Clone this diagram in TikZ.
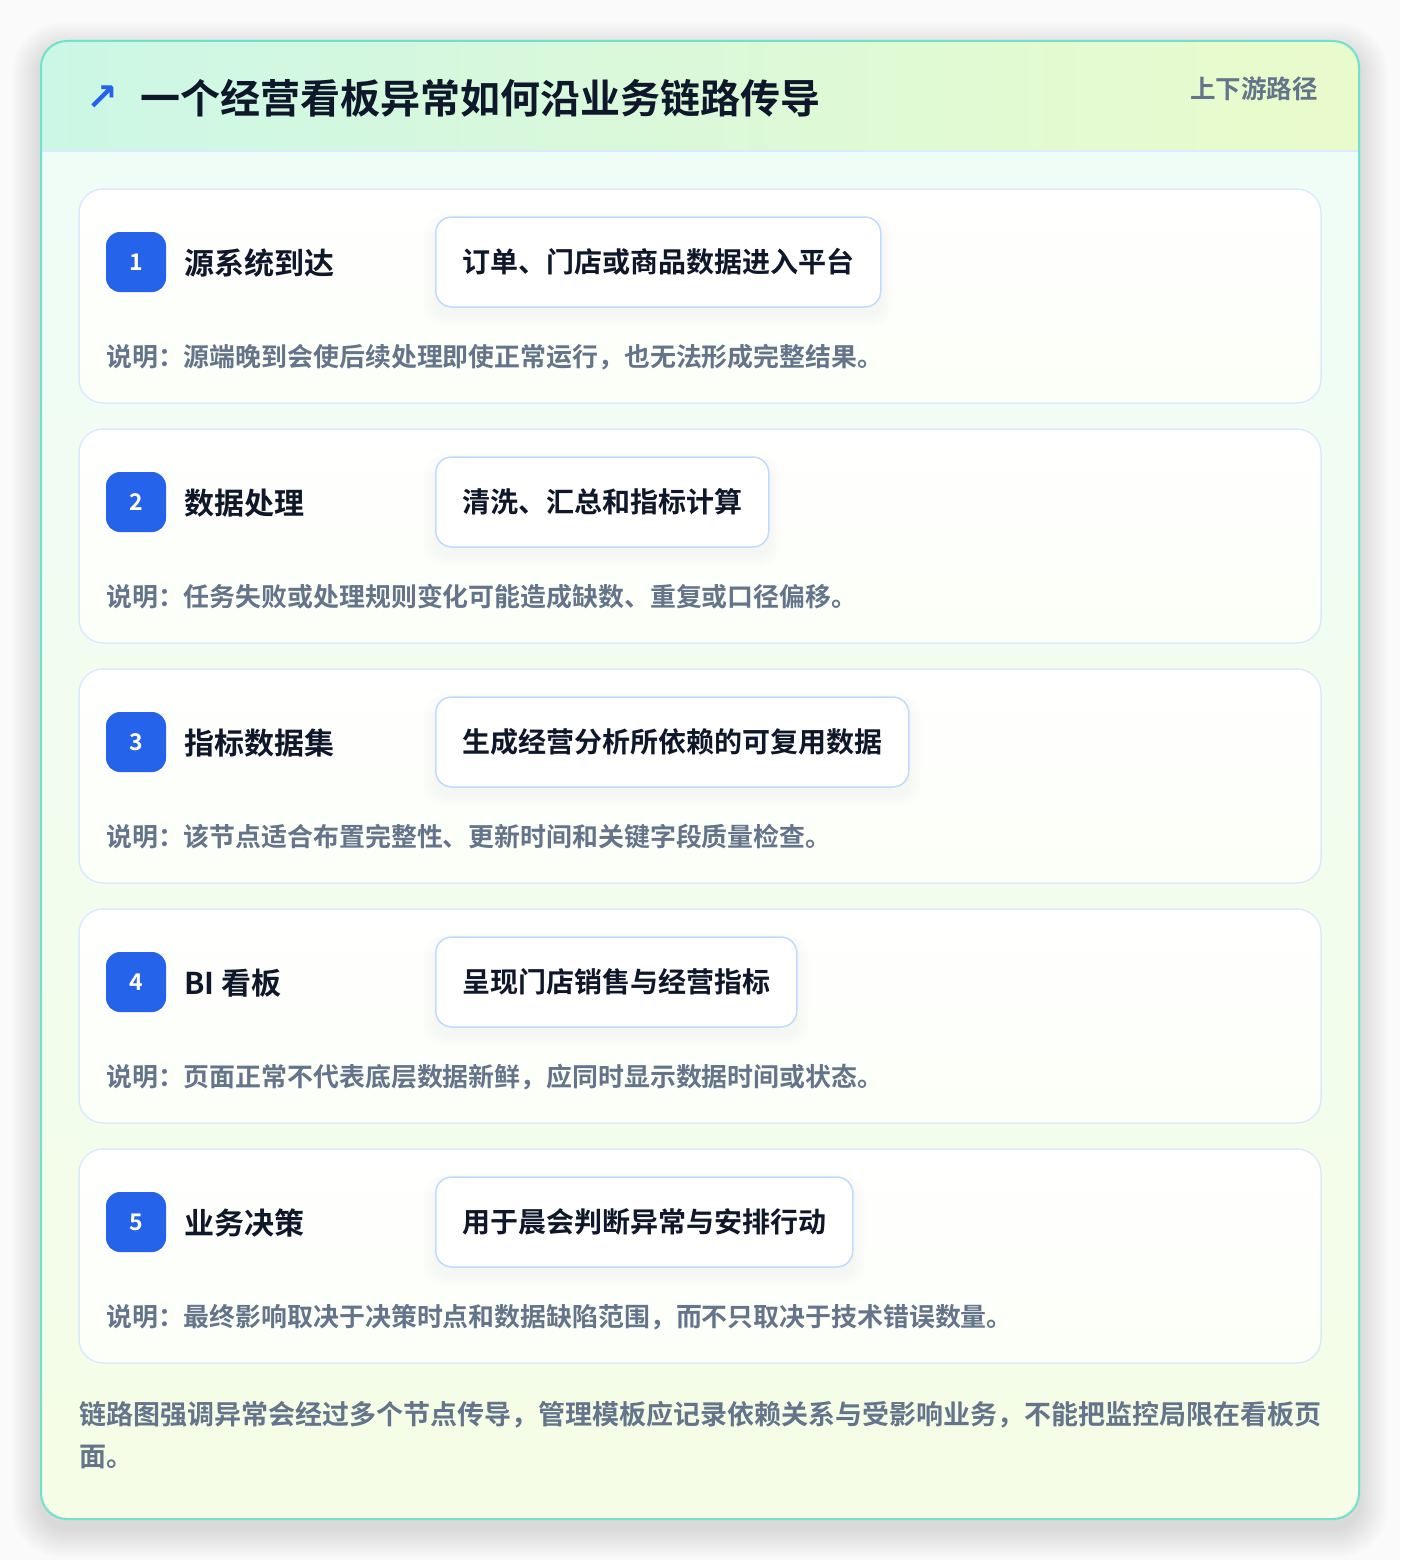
\documentclass[tikz,border=0pt]{standalone}
\usepackage{fontspec}
\setmainfont{Noto Sans CJK SC}[BoldFont={Noto Sans CJK SC Bold}]
\newfontfamily\symfont{DejaVu Sans}
\usetikzlibrary{backgrounds}
\definecolor{pagebg}{HTML}{FAFAFA}
\definecolor{cardedge}{HTML}{6EE2CC}
\definecolor{headL}{HTML}{CCF7E6}
\definecolor{headR}{HTML}{EAFBCB}
\definecolor{bodyT}{HTML}{EFFDF8}
\definecolor{bodyB}{HTML}{F5FDE6}
\definecolor{lineblue}{HTML}{DBEAFE}
\definecolor{pillblue}{HTML}{BFDBFE}
\definecolor{badgeblue}{HTML}{2563EB}
\definecolor{inkdark}{HTML}{0F172A}
\definecolor{inkgray}{HTML}{64748B}
\pgfdeclarelayer{shadowlayer}
\pgfsetlayers{background,shadowlayer,main}
\begin{document}
\begin{tikzpicture}[x=1pt,y=-1pt,
  stepcard/.style={draw=lineblue, line width=1.5pt, rounded corners=24pt, top color=white, bottom color=white!70!bodyB, minimum width=1242pt, minimum height=214pt, inner sep=0pt},
  badge/.style={fill=badgeblue, rounded corners=14pt, minimum width=60pt, minimum height=60pt, inner sep=0pt, text=white, font=\bfseries\fontsize{23}{23}\selectfont},
  steptitle/.style={anchor=west, inner sep=0pt, text=inkdark, font=\bfseries\fontsize{30}{30}\selectfont},
  pill/.style={anchor=west, draw=pillblue, line width=1.5pt, fill=white, rounded corners=16pt, minimum height=90pt, inner xsep=26.5pt, text=inkdark, font=\bfseries\fontsize{28}{28}\selectfont},
  desc/.style={anchor=west, inner sep=0pt, text=inkgray, font=\bfseries\fontsize{25.9}{26}\selectfont},
  foot/.style={anchor=west, inner sep=0pt, text=inkgray, font=\bfseries\fontsize{27}{27}\selectfont}]
\useasboundingbox (0,0) rectangle (1400,1560);
\begin{pgfonlayer}{background}
\fill[pagebg] (0,0) rectangle (1400,1560);
% outer shadow
\foreach \i in {1,...,16}{
  \fill[black, opacity=0.006, rounded corners={26pt+\i*1.5pt}] (41-\i*1.8,41-\i*1.8+10) rectangle (1359+\i*1.8,1519+\i*1.8+10);
}
% card body
\coordinate (cardTL) at (41,41);
\coordinate (cardBR) at (1359,1519);
\begin{scope}
\clip[rounded corners=26pt] (cardTL) rectangle (cardBR);
\shade[top color=bodyT, bottom color=bodyB] (cardTL) rectangle (cardBR);
\shade[left color=headL, right color=headR] (41,41) rectangle (1359,151);
\draw[lineblue, line width=1.5pt] (41,151) -- (1359,151);
\end{scope}
\draw[cardedge, line width=2pt, rounded corners=26pt] (cardTL) rectangle (cardBR);
\foreach \n in {1,...,5}{
  \node[stepcard] (c\n) at (700,{189+240*(\n-1)+107}) {};
}
\end{pgfonlayer}
% header
\node[anchor=center, inner sep=0pt, text=badgeblue, font=\symfont\bfseries\fontsize{38}{38}\selectfont] (icon) at (102,98) {↗};
\node[anchor=west, inner sep=0pt, text=inkdark, font=\bfseries\fontsize{40}{40}\selectfont] (title) at (140,98) {一个经营看板异常如何沿业务链路传导};
\node[anchor=east, inner sep=0pt, text=inkgray, font=\bfseries\fontsize{25.5}{26}\selectfont] (tag) at (1318,89) {上下游路径};
% steps
\foreach \n/\ttl/\pl/\dsc in {
  1/源系统到达/订单、门店或商品数据进入平台/说明：源端晚到会使后续处理即使正常运行，也无法形成完整结果。,
  2/数据处理/清洗、汇总和指标计算/说明：任务失败或处理规则变化可能造成缺数、重复或口径偏移。,
  3/指标数据集/生成经营分析所依赖的可复用数据/说明：该节点适合布置完整性、更新时间和关键字段质量检查。,
  4/BI 看板/呈现门店销售与经营指标/说明：页面正常不代表底层数据新鲜，应同时显示数据时间或状态。,
  5/业务决策/用于晨会判断异常与安排行动/说明：最终影响取决于决策时点和数据缺陷范围，而不只取决于技术错误数量。}{
  \node[badge] (b\n) at (136,{189+240*(\n-1)+73}) {\n};
  \node[steptitle] (t\n) at (184,{189+240*(\n-1)+74}) {\ttl};
  \node[pill] (p\n) at (435,{189+240*(\n-1)+73}) {\pl};
  \node[desc] (d\n) at (106,{189+240*(\n-1)+168}) {\dsc};
  \begin{pgfonlayer}{shadowlayer}
  \foreach \k in {1,...,8}{
    \fill[black, opacity=0.005, rounded corners={16pt+\k pt}] ([shift={(-\k*1.5,-\k*1.5+8)}]p\n.north west) rectangle ([shift={(\k*1.5,\k*1.5+8)}]p\n.south east);
  }
  \end{pgfonlayer}
}
% footer
\node[foot] (f1) at (79,1415) {链路图强调异常会经过多个节点传导，管理模板应记录依赖关系与受影响业务，不能把监控局限在看板页};
\node[foot] (f2) at (79,1457) {面。};
\end{tikzpicture}
\end{document}
